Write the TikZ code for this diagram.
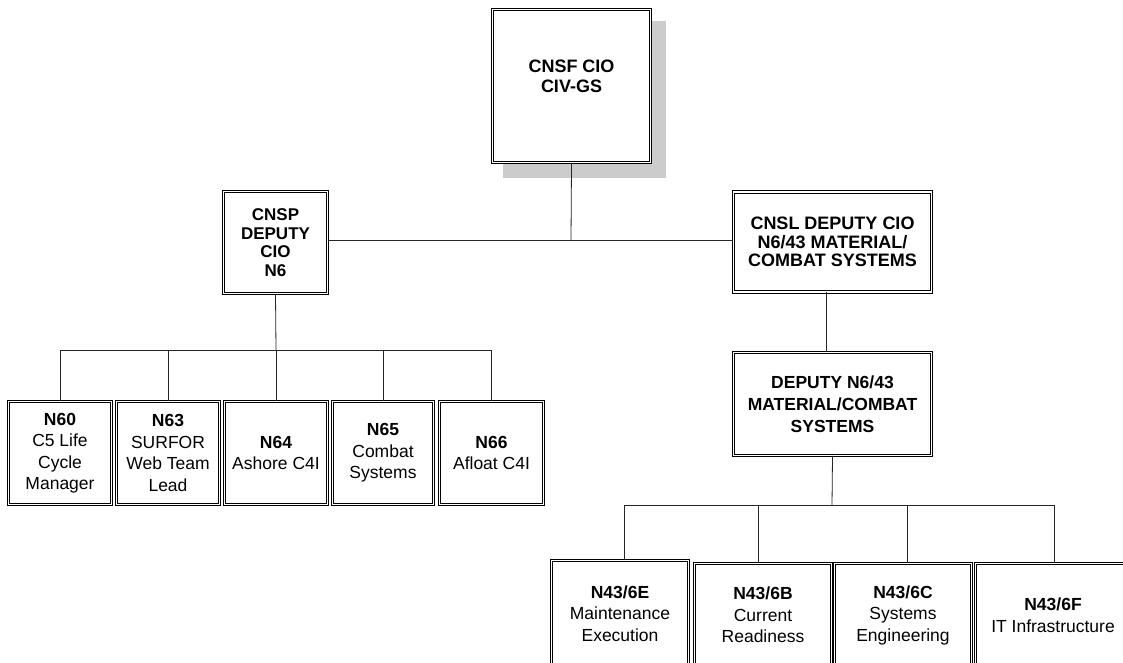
\documentclass[tikz,border=0pt]{standalone}
\usepackage{fontspec}
\setmainfont{Liberation Sans}
\begin{document}
\begin{tikzpicture}[x=1pt,y=-1pt,
  box/.style={draw, fill=white, line width=0.75pt, double=white, double distance=1.6pt,
    inner sep=0pt, align=center, font=\fontsize{17.5}{21.5}\selectfont},
  bigtext/.style={align=center, font=\fontsize{18}{20}\selectfont\bfseries},
  conn/.style={draw=black!85, line width=0.8pt}]
\useasboundingbox (0,0) rectangle (1123,662);
\clip (0,0) rectangle (1123,662);
% shadow of top box
\fill[black!20] (503,21) rectangle (666,178);
% top box
\node[box, minimum width=158, minimum height=153] (cnsf) at (571.5,86) {};
\node[bigtext] (cnsft) at (571.5,76) {CNSF CIO\\CIV-GS};
% second level
\node[box, minimum width=104, minimum height=102, font=\fontsize{17}{18.5}\selectfont\bfseries] (cnsp) at (275.5,242.5) {CNSP\\DEPUTY\\CIO\\N6};
\node[box, minimum width=198, minimum height=100, font=\fontsize{18}{18.5}\selectfont\bfseries] (cnsl) at (832.5,242) {CNSL DEPUTY CIO\\N6/43 MATERIAL/\\COMBAT SYSTEMS};
\node[box, minimum width=198, minimum height=103, font=\fontsize{17.5}{22}\selectfont\bfseries] (dep) at (832.5,404) {DEPUTY N6/43\\MATERIAL/COMBAT\\SYSTEMS};
% bottom-left row
\node[box, minimum width=103, minimum height=103] (n60) at (60,453) {\textbf{N60}\\C5 Life\\Cycle\\Manager};
\node[box, minimum width=103, minimum height=103] (n63) at (168,453) {\textbf{N63}\\SURFOR\\Web Team\\Lead};
\node[box, minimum width=103, minimum height=103] (n64) at (276,453) {\textbf{N64}\\Ashore C4I};
\node[box, minimum width=101, minimum height=103] (n65) at (383,453) {\textbf{N65}\\Combat\\Systems};
\node[box, minimum width=104, minimum height=103] (n66) at (491.5,453) {\textbf{N66}\\Afloat C4I};
% bottom-right row
\node[box, minimum width=137, minimum height=106] (e) at (620,613.5) {\textbf{N43/6E}\\Maintenance\\Execution};
\node[box, minimum width=137, minimum height=103] (b) at (763,615) {\textbf{N43/6B}\\Current\\Readiness};
\node[box, minimum width=137, minimum height=103] (c) at (903,615) {\textbf{N43/6C}\\Systems\\Engineering};
\node[box, minimum width=155, minimum height=103] (f) at (1053,615) {\textbf{N43/6F}\\IT Infrastructure};
% connectors
\coordinate (hub) at (571,240);
\draw[conn] (cnsf.south) -- (hub);
\draw[conn] (cnsp.east |- hub) -- (cnsl.west |- hub);
\coordinate (lbus) at (276,350);
\draw[conn] (cnsp.south) -- (lbus);
\draw[conn] (n60.north |- lbus) -- (n66.north |- lbus);
\foreach \n in {n60,n63,n64,n65,n66} \draw[conn] (\n.north |- lbus) -- (\n.north);
\coordinate (cx) at (826,300);
\draw[conn] (cnsl.south -| cx) -- (dep.north -| cx);
\coordinate (rbus) at (832,505);
\draw[conn] (dep.south) -- (rbus);
\coordinate (r1) at (624,505);
\coordinate (r2) at (758,505);
\coordinate (r3) at (907,505);
\coordinate (r4) at (1054,505);
\draw[conn] (r1) -- (r4);
\draw[conn] (r1) -- (r1 |- e.north);
\draw[conn] (r2) -- (r2 |- b.north);
\draw[conn] (r3) -- (r3 |- c.north);
\draw[conn] (r4) -- (r4 |- f.north);
\end{tikzpicture}
\end{document}
